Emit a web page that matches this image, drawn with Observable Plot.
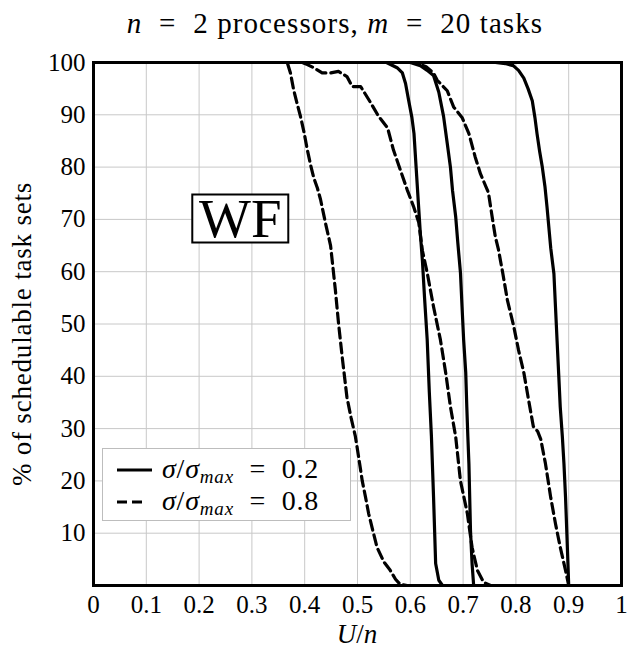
<!DOCTYPE html>
<html>
<head>
<meta charset="utf-8">
<script src="https://cdn.jsdelivr.net/npm/d3@7"></script>
<script src="https://cdn.jsdelivr.net/npm/@observablehq/plot@0.6"></script>
<style>
  body { margin: 0; background: #fff; overflow: hidden; }
  #chart { width: 628px; height: 655px; }
  #chart svg text, #chart svg tspan {
    font-family: "Liberation Serif", "Times New Roman", serif !important;
    white-space: pre;
  }
</style>
</head>
<body>
<div id="chart"></div>
<script>
// Schedulability of WF partitioning, n = 2 processors, m = 20 tasks.
// Each curve: normalised utilisation U/n against % of schedulable task sets.

// sigma/sigma_max = 0.2 (solid curves)
const solid1U = [0, 0.555, 0.575, 0.585, 0.591, 0.597, 0.603, 0.607, 0.611, 0.615, 0.619, 0.623, 0.627, 0.632, 0.636, 0.640, 0.644, 0.648, 0.654, 0.661, 1];
const solid1P = [100, 100, 99, 98, 96, 92.7, 89.5, 86.4, 80, 73.6, 67.3, 62, 55, 47, 37, 28.5, 17, 4.2, 1, 0, 0];

const solid2U = [0, 0.600, 0.619, 0.632, 0.644, 0.654, 0.663, 0.670, 0.676, 0.680, 0.686, 0.690, 0.695, 0.698, 0.701, 0.705, 0.707, 0.709, 0.711, 0.714, 0.717, 0.720, 1];
const solid2P = [100, 100, 99.4, 98.5, 97.5, 94.3, 89.7, 84.5, 80, 75.5, 70.5, 65.5, 59.8, 53.3, 47, 40.7, 34.2, 28.5, 23.3, 10.5, 4.2, 0, 0];

const solid3U = [0, 0.761, 0.780, 0.795, 0.805, 0.815, 0.823, 0.831, 0.836, 0.840, 0.845, 0.850, 0.855, 0.859, 0.866, 0.872, 0.875, 0.878, 0.881, 0.884, 0.888, 0.891, 0.894, 0.897, 0.900, 1];
const solid3P = [100, 100, 99.8, 99.4, 98.5, 97, 95, 92.7, 89.5, 86.4, 83, 80, 76.3, 72.3, 64.5, 59.6, 53.2, 46.8, 40.5, 34.1, 28.4, 23.3, 16.9, 8.6, 0, 0];

// sigma/sigma_max = 0.8 (dashed curves)
const dashed1U = [0, 0.367, 0.373, 0.379, 0.386, 0.392, 0.399, 0.405, 0.411, 0.417, 0.424, 0.430, 0.440, 0.449, 0.458, 0.464, 0.471, 0.480, 0.488, 0.496, 0.503, 0.509, 0.515, 0.521, 0.529, 0.537, 0.550, 0.562, 0.572, 0.581, 0.594, 1];
const dashed1P = [100, 100, 98, 94.8, 92, 89.7, 86.5, 83.3, 80.5, 78, 76, 73.8, 69, 65, 56.6, 50.2, 43.7, 36, 32, 28.5, 24, 20, 17, 13.8, 10.5, 7.3, 4.5, 2.9, 1.2, 0.2, 0, 0];

const dashed2U = [0, 0.395, 0.405, 0.417, 0.433, 0.449, 0.464, 0.480, 0.490, 0.506, 0.525, 0.540, 0.557, 0.568, 0.581, 0.594, 0.606, 0.616, 0.623, 0.632, 0.644, 0.657, 0.667, 0.676, 0.686, 0.695, 0.708, 0.717, 0.727, 0.739, 0.752, 1];
const dashed2P = [100, 100, 99.6, 99, 98, 98, 98.3, 97.3, 95.4, 95.4, 92.3, 89.7, 87.5, 83.3, 79.5, 75.7, 72.5, 69.4, 64, 59.8, 53.3, 47, 40.7, 34.2, 28.4, 20, 13.8, 7.3, 2.9, 0.6, 0, 0];

const dashed3U = [0, 0.610, 0.630, 0.644, 0.651, 0.670, 0.682, 0.698, 0.711, 0.723, 0.733, 0.748, 0.755, 0.761, 0.767, 0.775, 0.784, 0.796, 0.805, 0.815, 0.824, 0.833, 0.841, 0.847, 0.856, 0.866, 0.875, 0.884, 0.894, 0.900, 1];
const dashed3P = [100, 100, 99.2, 98, 96.6, 94.6, 91.5, 89.5, 86.4, 81.9, 78.7, 75.1, 70.5, 66.7, 64.2, 59.8, 54.5, 49.5, 45, 40.7, 35.5, 30.4, 29.5, 28, 23.3, 16.8, 11.8, 7.3, 2.9, 0, 0];

// axes
const xTicks = [0, 0.1, 0.2, 0.3, 0.4, 0.5, 0.6, 0.7, 0.8, 0.9, 1];
const xTickLabels = ["0", "0.1", "0.2", "0.3", "0.4", "0.5", "0.6", "0.7", "0.8", "0.9", "1"];
const yTicks = [10, 20, 30, 40, 50, 60, 70, 80, 90, 100];

// policy annotation
const policyLabel = [{u: 0.278, p: 70, text: "WF"}];

function rows(us, ps, id) {
  return us.map((u, i) => ({u, p: ps[i], id}));
}
const solidRows = [
  ...rows(solid1U, solid1P, "s1"),
  ...rows(solid2U, solid2P, "s2"),
  ...rows(solid3U, solid3P, "s3")
];
const dashedRows = [
  ...rows(dashed1U, dashed1P, "d1"),
  ...rows(dashed2U, dashed2P, "d2"),
  ...rows(dashed3U, dashed3P, "d3")
];
const xLabelOf = new Map(xTicks.map((t, i) => [t, xTickLabels[i]]));

const grid = {stroke: "#c8c8c8", strokeOpacity: 1, strokeWidth: 1};

const chart = Plot.plot({
  width: 628,
  height: 655,
  marginLeft: 93,
  marginRight: 7,
  marginTop: 62,
  marginBottom: 70,
  style: {fontSize: "25px", color: "black", background: "white"},
  x: {domain: [0, 1], label: null},
  y: {domain: [0, 100], label: null},
  marks: [
    Plot.gridX(xTicks, grid),
    Plot.gridY(yTicks, grid),
    Plot.axisX(xTicks, {tickSize: 0, tickPadding: 10, tickFormat: d => xLabelOf.get(d), fontSize: 25}),
    Plot.axisY(yTicks, {tickSize: 0, tickPadding: 8, fontSize: 25}),
    Plot.line(solidRows, {x: "u", y: "p", z: "id", stroke: "black", strokeWidth: 3.2, strokeLinejoin: "round"}),
    Plot.line(dashedRows, {x: "u", y: "p", z: "id", stroke: "black", strokeWidth: 3.2, strokeLinejoin: "round", strokeDasharray: "10,5"}),
    Plot.frame({stroke: "black", strokeWidth: 3}),
    Plot.text(policyLabel, {x: "u", y: "p", text: "text", fontSize: 55, fill: "black", className: "policy"})
  ]
});
document.getElementById("chart").append(chart);

const svg = d3.select(chart);

// box round the policy label, sharing the label's own placement
svg.selectAll(".policy text").each(function() {
  const b = this.getBBox();
  const cx = b.x + b.width / 2, cy = b.y + b.height / 2;
  d3.select(this.parentNode).insert("rect", "text")
    .attr("transform", this.getAttribute("transform"))
    .attr("x", cx - 48).attr("y", cy - 24)
    .attr("width", 96).attr("height", 48)
    .attr("fill", "white").attr("stroke", "black").attr("stroke-width", 2);
});

// title
const title = svg.append("text")
  .attr("x", 335).attr("y", 33)
  .attr("text-anchor", "middle")
  .attr("font-size", 29)
  .attr("letter-spacing", 1.1).attr("fill", "black");
title.append("tspan").attr("font-style", "italic").text("n");
title.append("tspan").text("  =  2 processors, ");
title.append("tspan").attr("font-style", "italic").text("m");
title.append("tspan").text("  =  20 tasks");

// x-axis label
const xl = svg.append("text")
  .attr("x", 357).attr("y", 643)
  .attr("text-anchor", "middle")
  .attr("font-size", 27).attr("fill", "black");
xl.append("tspan").attr("font-style", "italic").text("U");
xl.append("tspan").text("/");
xl.append("tspan").attr("font-style", "italic").text("n");

// y-axis label
svg.append("text")
  .attr("transform", "translate(22,334) rotate(-90)")
  .attr("dy", "0.35em")
  .attr("text-anchor", "middle")
  .attr("font-size", 27)
  .attr("letter-spacing", 0.8).attr("fill", "black")
  .text("% of schedulable task sets");

// legend
const lg = svg.append("g")
  .attr("font-size", 28)
  .attr("text-anchor", "start");
lg.append("rect")
  .attr("x", 102.5).attr("y", 448.5).attr("width", 248).attr("height", 72)
  .attr("fill", "white").attr("stroke", "#bdbdbd").attr("stroke-width", 1);
const entries = [
  {value: "0.2", dash: null, y: 478},
  {value: "0.8", dash: "10,5", y: 510}
];
entries.forEach(e => {
  lg.append("line")
    .attr("x1", 117).attr("x2", e.dash ? 143 : 152)
    .attr("y1", e.y - 8).attr("y2", e.y - 8)
    .attr("stroke", "black").attr("stroke-width", 3)
    .attr("stroke-dasharray", e.dash);
  const t = lg.append("text").attr("x", 162).attr("y", e.y)
    .attr("letter-spacing", 0.8).attr("fill", "black");
  t.append("tspan").attr("font-style", "italic").text("σ");
  t.append("tspan").text("/");
  t.append("tspan").attr("font-style", "italic").text("σ");
  t.append("tspan").attr("font-style", "italic").attr("font-size", 19).attr("dy", 5).text("max");
  t.append("tspan").attr("dy", -5).text("  =  " + e.value);
});
</script>
</body>
</html>
